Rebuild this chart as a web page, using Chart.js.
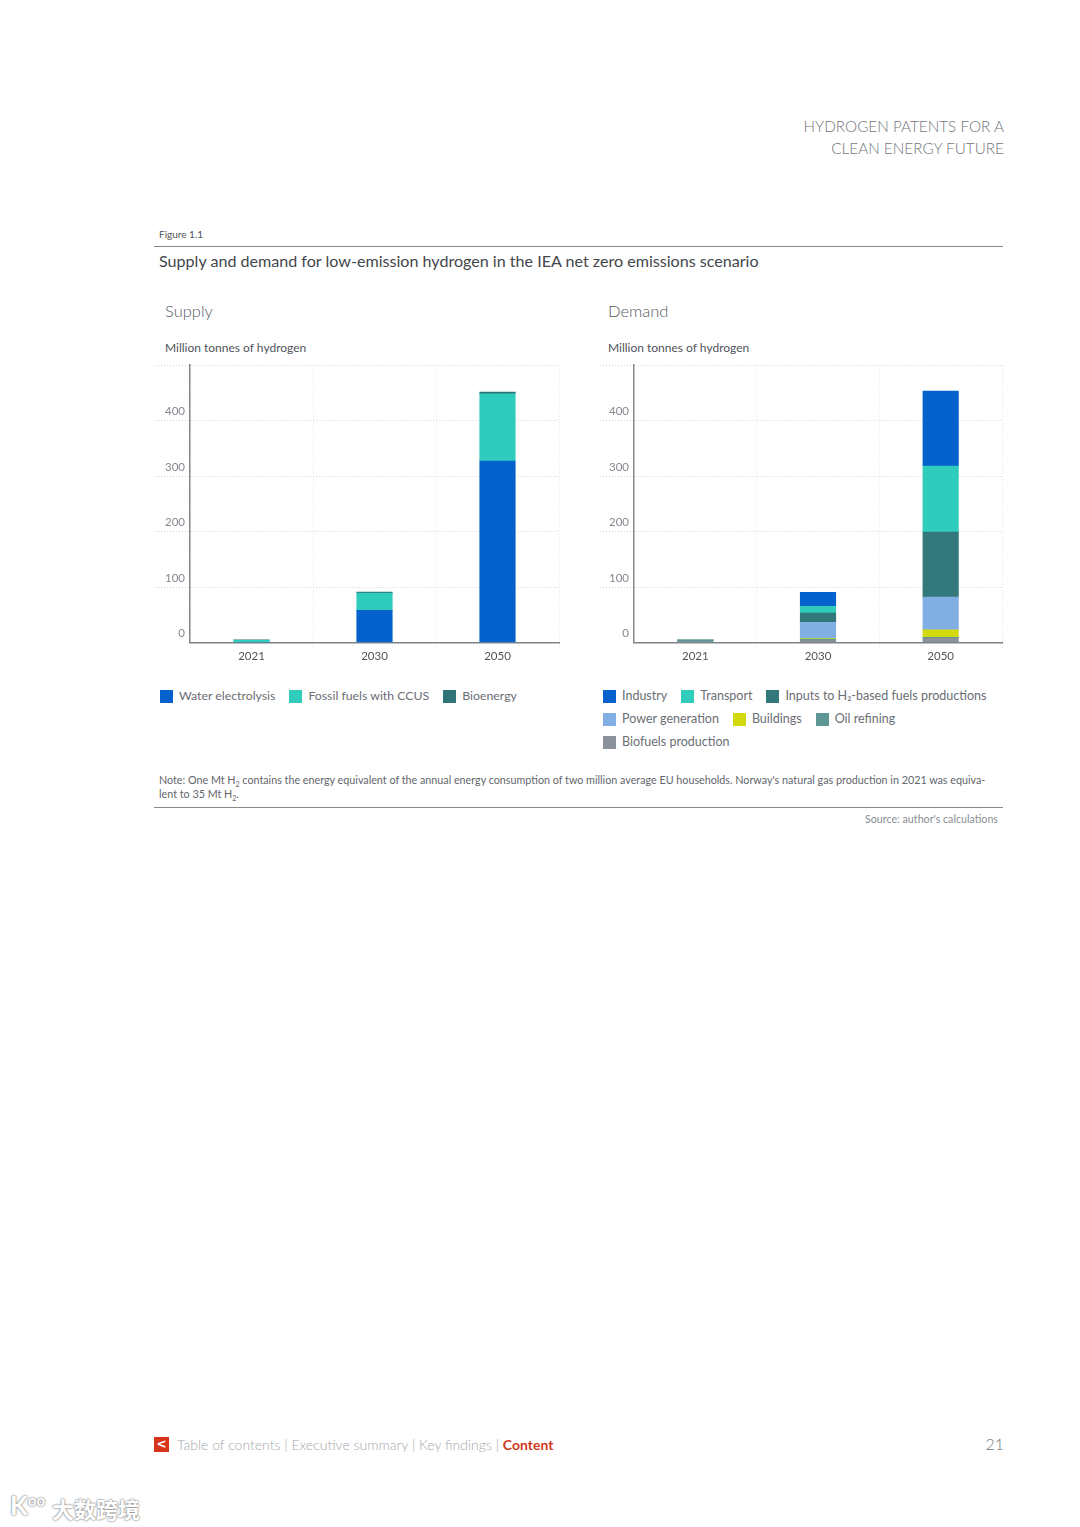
<!DOCTYPE html>
<html>
<head>
<meta charset="utf-8">
<title>Hydrogen patents - Figure 1.1</title>
<script src="https://cdn.jsdelivr.net/npm/chart.js@4/dist/chart.umd.min.js"></script>
<style>
  html, body { margin: 0; padding: 0; background: #fff; }
  #page { position: relative; width: 1080px; height: 1527px; overflow: hidden; font-family: Lato, "Open Sans", sans-serif; color: #555a60; }
  #page > * { position: absolute; }
  canvas { display: block; }
  .rule { background: #85888c; height: 1px; left: 154px; width: 849px; }
  .panel { font-size: 16.5px; color: #55595f; top: 301px; font-weight: 300; }
  .unit { font-size: 12px; color: #50545a; top: 340px; }
  .legend { display: flex; flex-wrap: wrap; row-gap: 5px; column-gap: 14px; font-size: 12.3px; color: #6a6e74; line-height: 18px; }
  .legend span { display: flex; align-items: center; white-space: nowrap; }
  .legend i { width: 13px; height: 13px; margin-right: 6px; display: block; }
  sub { font-size: 65%; line-height: 0; }
</style>
</head>
<body>
<div id="page">
  <div style="right:76px;top:115px;font-size:15.3px;line-height:22px;text-align:right;color:#74777b;font-weight:300">HYDROGEN PATENTS FOR A<br>CLEAN ENERGY FUTURE</div>
  <div style="left:159px;top:228px;font-size:10px;color:#50545a">Figure 1.1</div>
  <div class="rule" style="top:246px"></div>
  <div style="left:159px;top:251px;font-size:16.1px;color:#43474c">Supply and demand for low-emission hydrogen in the IEA net zero emissions scenario</div>

  <div class="panel" style="left:165px">Supply</div>
  <div class="panel" style="left:608px">Demand</div>
  <div class="unit" style="left:165px">Million tonnes of hydrogen</div>
  <div class="unit" style="left:608px">Million tonnes of hydrogen</div>

  <canvas id="supply" width="410" height="310" style="left:155px;top:355px"></canvas>
  <canvas id="demand" width="408" height="310" style="left:600px;top:355px"></canvas>

  <div id="supplyLegend" class="legend" style="left:160px;top:687px;width:420px"></div>
  <div id="demandLegend" class="legend" style="left:603px;top:687px;width:400px;font-size:12.5px"></div>

  <div style="left:159px;top:773px;width:845px;font-size:10.75px;line-height:14px;color:#62666c">Note: One Mt H<sub>2</sub> contains the energy equivalent of the annual energy consumption of two million average EU households. Norway's natural gas production in 2021 was equiva-<br>lent to 35 Mt H<sub>2</sub>.</div>
  <div class="rule" style="top:807px"></div>
  <div style="right:82px;top:812px;font-size:10.7px;color:#8a8e93">Source: author's calculations</div>

  <div style="left:154px;top:1437px;width:15px;height:15px;background:#d8341c;color:#fff;font:bold 12px/15px 'DejaVu Sans';text-align:center">&lt;</div>
  <div style="left:177px;top:1436px;font-size:14px;color:#a4a8ac;font-weight:300">Table of contents | Executive summary | Key findings | <b style="color:#cf3a20;font-weight:700">Content</b></div>
  <div style="right:76px;top:1434px;font-size:16px;color:#6f7378;font-weight:300">21</div>

  <div style="left:52px;top:1492px;font:bold 22px 'Noto Sans CJK SC';color:#fff;text-shadow:0 0 2px #888,0 0 2px #888">大数跨境</div>
  <div style="left:10px;top:1489px;font:bold 26px Lato;color:#fff;text-shadow:0 0 2px #888,0 0 2px #888">K<span style="font-size:15px;vertical-align:9px">oo</span></div>
</div>

<script>
const years = ['2021', '2030', '2050'];
const yTicks = [0, 100, 200, 300, 400, 500];

const supplyNames = ['Water electrolysis', 'Fossil fuels with CCUS', 'Bioenergy'];
const supplyColors = ['#0561cb', '#2fccbd', '#2f7577'];
const waterElectrolysis = [0, 58, 327];
const fossilCcus = [4, 31, 121];
const bioenergy = [0.6, 2, 3];

const demandNames = ['Industry', 'Transport', 'Inputs to H\u2082-based fuels productions', 'Power generation', 'Buildings', 'Oil refining', 'Biofuels production'];
const demandColors = ['#0561cb', '#2fccbd', '#33787a', '#82afe3', '#d3d90f', '#5f9797', '#8b919b'];
const industry = [0, 25.5, 135];
const transport = [0, 12, 119];
const h2Inputs = [0, 16.5, 117];
const powerGen = [0, 29.5, 59];
const buildings = [0, 1.5, 13.5];
const oilRefining = [3.5, 2, 2];
const biofuels = [1, 3.5, 7.5];

function makeChart(id, names, colors, series, leftWidth) {
  // first series in the list sits at the bottom of the stack
  const datasets = names.map((name, i) => ({
    label: name,
    data: series[i],
    backgroundColor: colors[i],
    borderWidth: 0,
    barThickness: 35.5
  }));
  return new Chart(document.getElementById(id), {
    type: 'bar',
    data: { labels: years, datasets: datasets },
    options: {
      responsive: false,
      animation: false,
      layout: { padding: { top: 10, right: 6, left: 0, bottom: 0 } },
      plugins: { legend: { display: false }, tooltip: { enabled: false } },
      scales: {
        x: {
          stacked: true,
          afterFit: scale => { scale.height = 22.5; },
          border: { color: '#7f8388', width: 1.5, dash: [1, 2] },
          grid: {
            // no line on the right edge of the plot
            color: ctx => ctx.index === years.length ? 'transparent' : '#e6e7e8',
            tickColor: ctx => ctx.index === years.length ? 'transparent' : '#e6e7e8',
            lineWidth: 1,
            tickLength: 8,
            tickBorderDash: [1, 2]
          },
          ticks: { color: '#50545a', font: { family: 'Lato', size: 11.5 }, padding: -1, maxRotation: 0 }
        },
        y: {
          stacked: true,
          min: 0,
          max: 500,
          afterBuildTicks: scale => { scale.ticks = yTicks.map(v => ({ value: v })); },
          afterFit: scale => { scale.width = leftWidth; },
          border: { color: '#85888d', width: 1.5, dash: [1, 2] },
          grid: {
            color: ctx => ctx.tick.value === 0 ? 'transparent' : '#d0d2d4',
            lineWidth: 1,
            tickLength: leftWidth,
            tickColor: ctx => ctx.tick.value === 0 ? 'transparent' : '#d0d2d4',
            tickBorderDash: [1, 2]
          },
          ticks: {
            color: '#85898e',
            font: { family: 'Lato', size: 11.5 },
            padding: 5 - leftWidth,
            labelOffset: -9,
            callback: v => v === 500 ? '' : String(v)
          }
        }
      }
    }
  });
}

function makeLegend(id, names, colors) {
  const box = document.getElementById(id);
  names.forEach((name, i) => {
    const item = document.createElement('span');
    const swatch = document.createElement('i');
    swatch.style.background = colors[i];
    item.appendChild(swatch);
    item.appendChild(document.createTextNode(name));
    box.appendChild(item);
  });
}

makeChart('supply', supplyNames, supplyColors, [waterElectrolysis, fossilCcus, bioenergy], 35);

// demand legend runs top of stack first, so reverse for drawing
makeChart('demand', demandNames.slice().reverse(), demandColors.slice().reverse(),
  [biofuels, oilRefining, buildings, powerGen, h2Inputs, transport, industry], 34);

makeLegend('supplyLegend', supplyNames, supplyColors);
makeLegend('demandLegend', demandNames, demandColors);
</script>
</body>
</html>
